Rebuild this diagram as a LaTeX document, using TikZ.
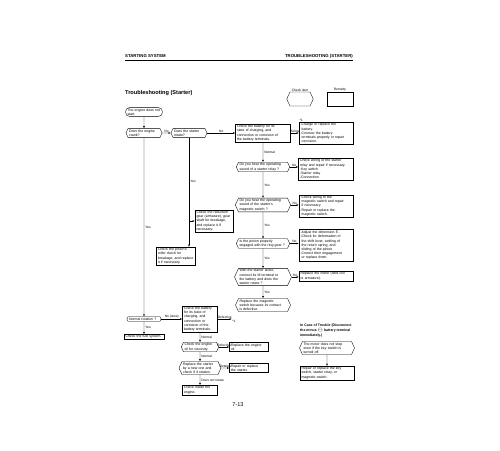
\documentclass[tikz,border=0pt]{standalone}
\usepackage{fontspec}
\setmainfont{Liberation Sans}
\usetikzlibrary{arrows.meta,shapes.symbols,positioning}
\newcommand\flowfont{\fontsize{3.5}{4.2}\selectfont}
\newcommand\labfont{\fontsize{3.3}{4}\selectfont}
\tikzset{
  chk/.style={draw, shape=signal, signal to=east and west, signal pointer angle=130,
              align=left, inner xsep=1pt, inner ysep=1pt, font=\flowfont, line width=0.35pt},
  rem/.style={draw, rectangle, align=left, inner xsep=1.5pt, inner ysep=1pt,
              font=\flowfont, line width=0.35pt},
  pill/.style={draw, rectangle, rounded corners=4pt, align=left, inner xsep=2pt,
               inner ysep=1pt, font=\flowfont, line width=0.35pt},
  flow/.style={-{Latex[length=2.2pt,width=1.7pt]}, line width=0.35pt},
  nlab/.style={midway, above=0pt, inner sep=0.6pt, font=\labfont},
  ylab/.style={midway, right=0.5pt, inner sep=0.6pt, font=\labfont},
  hdr/.style={font=\fontsize{4.3}{5}\selectfont\bfseries, inner sep=0pt},
}

\begin{document}
\begin{tikzpicture}[x=1pt, y=-1pt, font=\flowfont]
\useasboundingbox (0,0) rectangle (500,450);

% page header
\node[hdr, anchor=base west] (sys) at (125,57) {STARTING SYSTEM};
\node[hdr, anchor=base east] (sec) at (353,57) {TROUBLESHOOTING (STARTER)};
\coordinate (ruleL) at (125,60);
\coordinate (ruleR) at (353,60);
\draw[line width=0.7pt] (ruleL) -- (ruleR);

\node[font=\fontsize{5.6}{6}\selectfont\bfseries, anchor=west, inner sep=0pt] (title) at (125,93)
  {Troubleshooting (Starter)};

% legend
\node[chk, text width=18pt, minimum height=14pt] (legchk) at (300,99) {};
\node[font=\labfont, anchor=south, inner sep=0.5pt] (lchk) at (legchk.north) {Check item};
\node[rem, minimum width=26pt, minimum height=14pt] (legrem) at (340,99) {};
\node[font=\labfont, anchor=south, inner sep=0.5pt] (lrem) at (legrem.north) {Remedy};

% main column
\node[pill, text width=33pt] (start) at (144,112) {The engine does not\\start.};
\node[chk, text width=30pt] (crank) at (144,133) {Does the engine\\crank?};
\node[chk, text width=30pt] (rotate) at (189,133) {Does the starter\\rotate?};
\node[rem, text width=52pt] (bat) at (263,133)
  {Check the battery for its\\state of charging, and\\connection or corrosion of\\the battery terminals.};
\node[rem, text width=51pt] (charge) at (326,133)
  {-Charge or replace the\\\phantom{-}battery.\\-Connect the battery\\\phantom{-}terminals properly or repair\\\phantom{-}corrosion.};
\node[font=\labfont, anchor=south west, inner sep=0.5pt] (ref0) at (charge.north west) {*1};

\node[chk, text width=47pt] (relay) at (263,167) {Do you hear the operating\\sound of a starter relay ?};
\node[rem, text width=52pt] (wire) at (326,169)
  {Check wiring of the starter\\relay and repair if necessary.\\-Key switch\\-Starter relay\\-Connection};

\node[chk, text width=47pt] (magsw) at (263,205)
  {Do you hear the operating\\sound of the starter's\\magnetic switch ?};
\node[rem, text width=51pt] (magwire) at (326,206)
  {-Check wiring to the\\\phantom{-}magnetic switch and repair\\\phantom{-}if necessary.\\-Repair or replace the\\\phantom{-}magnetic switch.};

\node[rem, text width=35pt] (gear) at (214,221)
  {Check the reduction\\gear (armature), gear\\shaft for breakage,\\and replace it if\\necessary.};
\node[rem, text width=36pt] (clutch) at (176,256)
  {Check the pinion's\\roller clutch for\\breakage, and replace\\it if necessary.};

\node[chk, text width=47pt] (pinion) at (263,243.5)
  {Is the pinion properly\\engaged with the ring gear ?};
\node[rem, text width=51pt] (adjust) at (326,245)
  {-Adjust the dimension $\ell$.\\-Check for deformation of\\\phantom{-}the shift lever, settling of\\\phantom{-}the return spring, and\\\phantom{-}sliding of the pinion.\\-Correct their engagement\\\phantom{-}or replace them.};

\node[chk, text width=47pt] (mterm) at (263,277)
  {With the starter alone,\\connect its M terminal to\\the battery and does the\\starter rotate ?};
\node[rem, text width=51pt] (motor) at (326,276) {Replace the motor (field coil\\or armature).};
\node[chk, text width=47pt] (magrep) at (263,305)
  {Replace the magnetic\\switch because its contact\\is defective.};

% slow cranking branch
\node[chk, text width=30pt] (revol) at (144,319) {Normal rotation ?};
\node[rem, text width=37pt] (fuel) at (144,337) {Check the fuel system.};
\node[rem, text width=32pt] (bat2) at (200,319)
  {Check the battery\\for its state of\\charging, and\\connection or\\corrosion of the\\battery terminals.};
\node[font=\labfont, inner sep=0.5pt] (ref1) at (234,321.5) {*1};
\node[chk, text width=31pt] (oil) at (200,347) {Check the engine\\oil for viscosity.};
\node[rem, text width=36pt] (oilrep) at (249,347) {Replace the engine\\oil.};
\node[chk, text width=34pt] (newst) at (200,368)
  {Replace the starter\\by a new one and\\check if it rotates.};
\node[rem, text width=36pt] (strep) at (249,368) {Repair or replace\\the starter.};
\node[rem, text width=32pt] (inside) at (200,390) {Check inside the\\engine.};

% trouble case
\node[font=\fontsize{3.5}{4.7}\selectfont\bfseries, anchor=north west, align=left, inner sep=0pt] (case) at (300,324)
  {In Case of Trouble (Disconnect\\the minus $\ominus$ battery terminal\\immediately.)};
\node[chk, text width=47pt] (nostop) at (327,348)
  {The motor does not stop\\even if the key switch is\\turned off.};
\node[rem, text width=51pt] (keysw) at (327,373)
  {Repair or replace the key\\switch, starter relay, or\\magnetic switch.};

\node[font=\fontsize{5.5}{6}\selectfont, inner sep=0pt] (page) at (238,405) {7-13};

% connectors
\draw[flow] (start) -- (crank);
\draw[flow] (crank) -- node[nlab] {No} (rotate);
\draw[flow] (rotate) -- node[nlab] {No} (bat);
\draw[flow] (bat) -- node[nlab] {Below} (charge);
\draw[flow] (bat) -- node[ylab] {Normal} (relay);
\draw[flow] (relay.east) -- node[nlab] {No} (relay.east -| wire.west);
\draw[flow] (relay) -- node[ylab] {Yes} (magsw);
\draw[flow] (magsw.east) -- node[nlab] {No} (magsw.east -| magwire.west);
\draw[flow] (magsw) -- node[ylab] {Yes} (pinion);
\draw[flow] (pinion.east) -- node[nlab] {No} (pinion.east -| adjust.west);
\draw[flow] (pinion) -- node[ylab] {Yes} (mterm);
\draw[flow] (mterm.east) -- node[nlab] {No} (mterm.east -| motor.west);
\draw[flow] (mterm) -- node[ylab] {Yes} (magrep);

\draw[flow] (rotate.south) -- node[ylab, pos=0.4] {Yes} (rotate.south |- clutch.north);
\draw[flow] (rotate.south |- gear.west) -- (gear.west);

\draw[flow] (crank) -- node[ylab] {Yes} (revol);
\draw[flow] (revol) -- node[nlab] {No (slow)} (bat2);
\draw[flow] (revol) -- node[ylab] {Yes} (fuel);
\draw[flow] (bat2.east) -- node[nlab] {Defective} (bat2.east -| ref1.west);
\draw[flow] (bat2) -- node[ylab] {Normal} (oil);
\draw[flow] (oil) -- node[nlab] {Defective} (oilrep);
\draw[flow] (oil) -- node[ylab] {Normal} (newst);
\draw[flow] (newst) -- node[nlab] {Rotates} (strep);
\draw[flow] (newst) -- node[ylab] {Does not rotate} (inside);

\draw[flow] (nostop) -- (keysw);

\end{tikzpicture}
\end{document}
